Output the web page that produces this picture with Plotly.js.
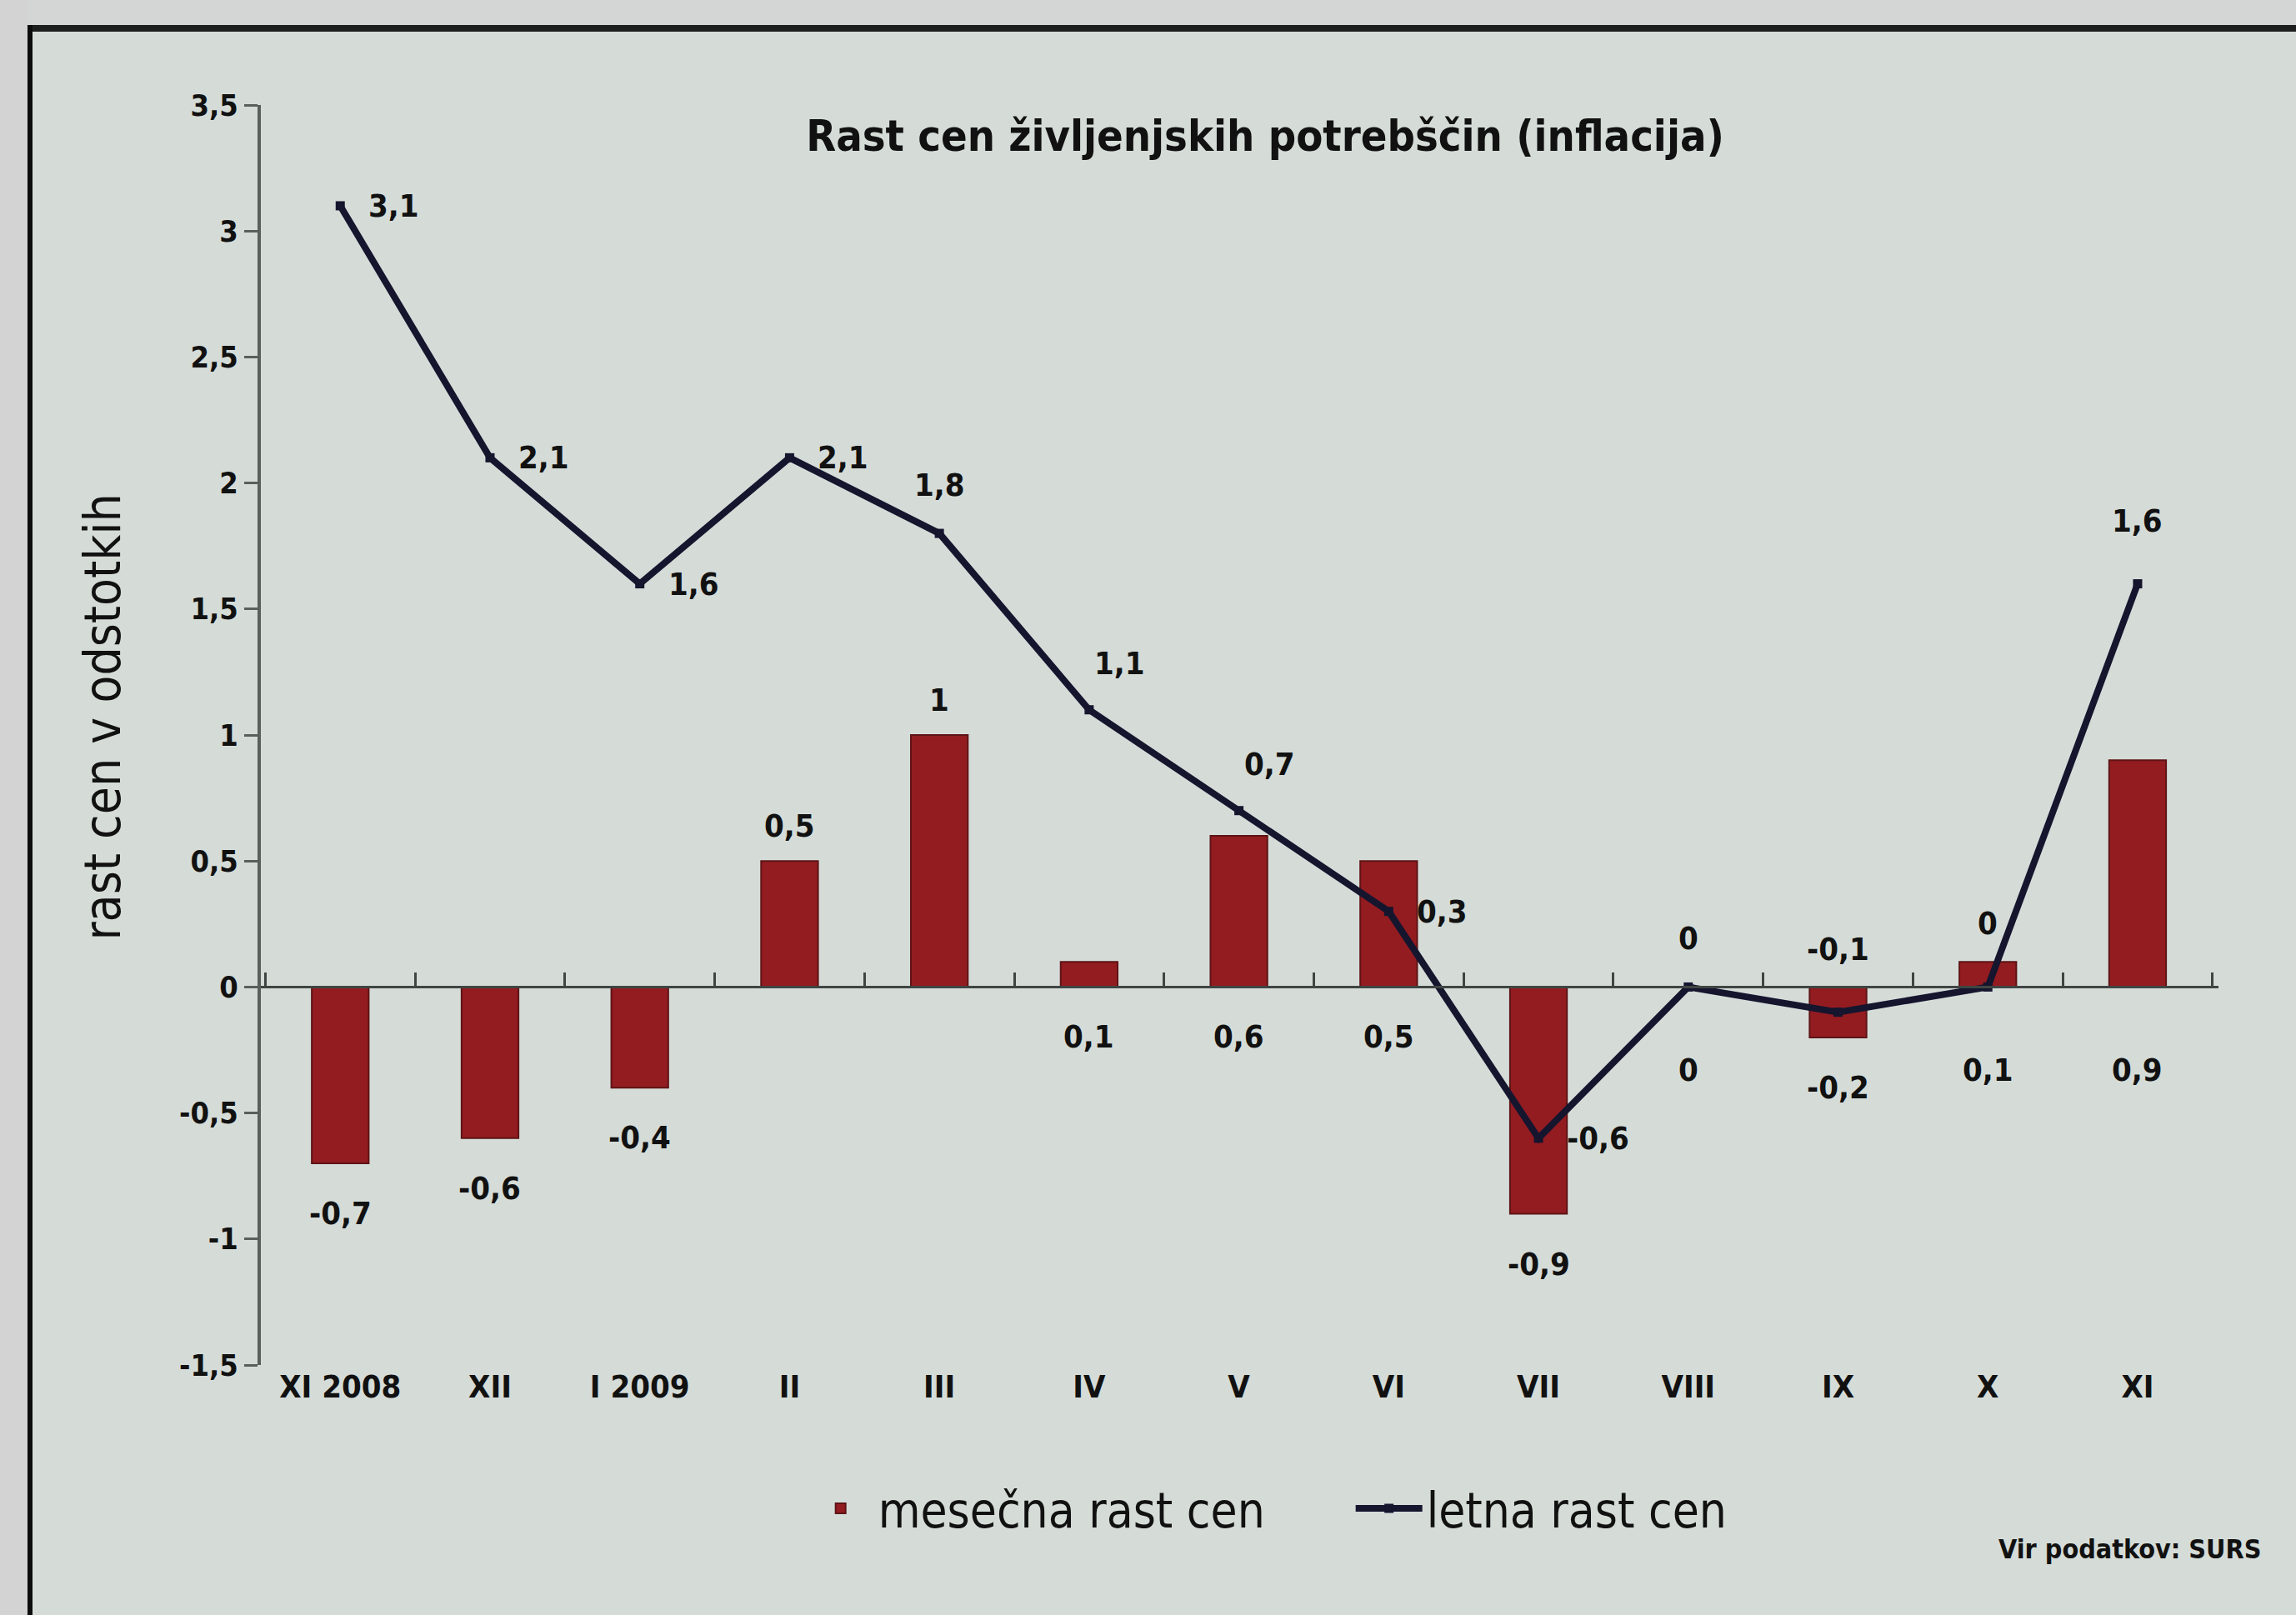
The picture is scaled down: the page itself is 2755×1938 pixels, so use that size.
<!DOCTYPE html>
<html>
<head>
<meta charset="utf-8">
<script src="https://cdn.plot.ly/plotly-3.0.1.min.js"></script>
<style>
  html, body { margin: 0; padding: 0; background: #d6d7d6; }
  #chart { position: absolute; left: 0; top: 0; width: 2755px; height: 1938px; }
  .ov { position: absolute; pointer-events: none; z-index: 10; }
</style>
</head>
<body>
<div id="chart"></div>
<div class="ov" style="left:0;top:0;width:2755px;height:30px;background:#d4d6d5;"></div>
<div class="ov" style="left:0;top:0;width:33px;height:1938px;background:#d2d3d2;"></div>
<div class="ov" style="left:33px;top:30px;width:2722px;height:8px;background:#1d1f1e;"></div>
<div class="ov" style="left:33px;top:30px;width:6px;height:1908px;background:#0c0c0c;"></div>
<script>
// ---- data ----
const categories = ['XI 2008', 'XII', 'I 2009', 'II', 'III', 'IV', 'V', 'VI', 'VII', 'VIII', 'IX', 'X', 'XI'];
const monthly = [-0.7, -0.6, -0.4, 0.5, 1.0, 0.1, 0.6, 0.5, -0.9, 0, -0.2, 0.1, 0.9];
const annual = [3.1, 2.1, 1.6, 2.1, 1.8, 1.1, 0.7, 0.3, -0.6, 0, -0.1, 0, 1.6];
const yTickValues = [-1.5, -1, -0.5, 0, 0.5, 1, 1.5, 2, 2.5, 3, 3.5];
// label placement styles (kept apart from the values)
const monthlyLabelSide = ['below', 'below', 'below', 'above', 'above', 'below', 'below', 'below', 'below', 'low', 'below', 'low', 'low'];
const annualLabelSide = ['r', 'r', 'r', 'r', 't', 'tr', 'tr', 'r', 'r', 't', 'tt', 'tt', 'tt'];

const xIdx = categories.map((_, i) => i);
const fmt = v => String(v).replace('.', ',');

const FONT = '"Liberation Sans Narrow", "DejaVu Sans Condensed", "Roboto Condensed", "Liberation Sans", sans-serif';
const BG = '#d5dcd8';
const RED = '#931c21';
const NAVY = '#15152e';
const XR = [-0.53, 12.54];
const YR = [-1.5, 3.5];

const traces = [
  {
    type: 'bar', name: 'mesečna rast cen', x: xIdx, y: monthly, xaxis: 'x', yaxis: 'y',
    width: 0.38, marker: { color: RED, line: { color: '#5e1416', width: 2 } },
    hoverinfo: 'skip'
  },
  {
    type: 'scatter', mode: 'lines+markers', name: 'letna rast cen', x: xIdx, y: annual,
    xaxis: 'x2', yaxis: 'y',
    line: { color: NAVY, width: 8 },
    marker: { symbol: 'square', size: 11, color: NAVY },
    hoverinfo: 'skip'
  }
];

const annotations = [];
monthly.forEach((v, i) => {
  const side = monthlyLabelSide[i];
  const above = side === 'above';
  annotations.push({
    xref: 'x', yref: 'y', x: xIdx[i], y: above ? v : Math.min(v, 0),
    text: fmt(v), showarrow: false, xanchor: 'center',
    yanchor: above ? 'bottom' : 'top',
    yshift: above ? 18 : (side === 'low' ? -76 : -36),
    font: { family: FONT, size: 38, color: '#111', weight: 700 }
  });
});
annual.forEach((v, i) => {
  const side = annualLabelSide[i];
  const a = {
    xref: 'x', yref: 'y', x: xIdx[i], y: v, text: fmt(v), showarrow: false,
    font: { family: FONT, size: 38, color: '#111', weight: 700 }
  };
  if (side === 'r') { a.xanchor = 'left'; a.yanchor = 'middle'; a.xshift = 32; }
  else if (side === 'tr') { a.xanchor = 'left'; a.yanchor = 'bottom'; a.xshift = 4; a.yshift = 32; }
  else if (side === 't') { a.xanchor = 'center'; a.yanchor = 'bottom'; a.yshift = 34; }
  else { a.xanchor = 'center'; a.yanchor = 'bottom'; a.xshift = 0; a.yshift = 52; }
  annotations.push(a);
});
annotations.push({
  xref: 'paper', yref: 'paper', x: -0.081, y: 0.514, textangle: -90,
  text: 'rast cen v odstotkih', showarrow: false, xanchor: 'center', yanchor: 'middle',
  font: { family: FONT, size: 60, color: '#111' }
});
annotations.push({
  xref: 'paper', yref: 'paper', x: 1.0226, y: -0.146, xanchor: 'right', yanchor: 'middle',
  text: 'Vir podatkov: SURS', showarrow: false,
  font: { family: FONT, size: 32, color: '#111', weight: 700 }
});

const layout = {
  width: 2755, height: 1938,
  paper_bgcolor: BG, plot_bgcolor: BG,
  margin: { l: 313, r: 93, t: 126, b: 300 },
  separators: ', ',
  font: { family: FONT, color: '#111' },
  title: {
    text: 'Rast cen življenjskih potrebščin (inflacija)',
    xref: 'container', yref: 'container', x: 0.551, y: 0.916, xanchor: 'center', yanchor: 'middle',
    font: { family: FONT, size: 52, color: '#111', weight: 700 }
  },
  xaxis: {
    range: XR, tickmode: 'array', tickvals: xIdx, ticktext: categories,
    showline: false, showgrid: false, zeroline: false, ticks: '',
    tickfont: { family: FONT, size: 38, color: '#111', weight: 700 },
    fixedrange: true
  },
  xaxis2: {
    overlaying: 'x', anchor: 'free', position: (0 - YR[0]) / (YR[1] - YR[0]),
    range: XR, tickmode: 'linear', tick0: -0.5, dtick: 1,
    showticklabels: false, showline: true, linecolor: '#3f4542', linewidth: 3,
    ticks: 'inside', ticklen: 16, tickwidth: 3, tickcolor: '#3f4542',
    showgrid: false, zeroline: false, fixedrange: true
  },
  yaxis: {
    range: YR, tickmode: 'array', tickvals: yTickValues, ticktext: yTickValues.map(fmt),
    showline: true, linecolor: '#59605c', linewidth: 4,
    ticks: 'outside', ticklen: 16, tickwidth: 3, tickcolor: '#59605c',
    showgrid: false, zeroline: false,
    tickfont: { family: FONT, size: 36, color: '#111', weight: 700 },
    fixedrange: true
  },
  showlegend: true,
  legend: {
    orientation: 'h', x: 0.277, xanchor: 'left', y: -0.114, yanchor: 'middle',
    bgcolor: 'rgba(0,0,0,0)', font: { family: FONT, size: 58, color: '#111' },
    itemwidth: 80, entrywidth: 563, entrywidthmode: 'pixels', tracegroupgap: 0
  },
  annotations: annotations
};

Plotly.newPlot('chart', traces, layout, { staticPlot: true, displayModeBar: false });
</script>
</body>
</html>
